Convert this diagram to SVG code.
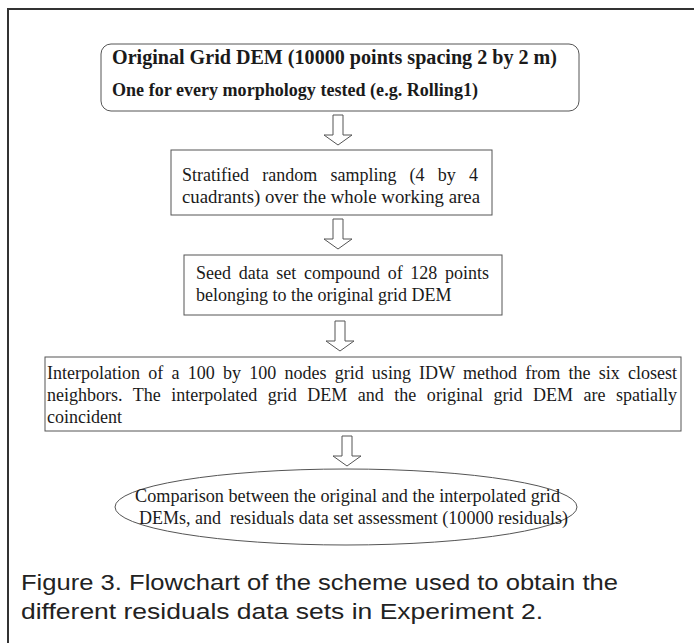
<svg xmlns="http://www.w3.org/2000/svg" width="694" height="643" viewBox="0 0 694 643">
<style>
.box{fill:#fff;stroke:#555;stroke-width:1}
.arr{fill:#fff;stroke:#555;stroke-width:1}
.t{font-family:"Liberation Serif","Times New Roman",serif;font-size:18px;fill:#1a1a1a}
.tb{font-family:"Liberation Serif","Times New Roman",serif;font-weight:bold;fill:#1a1a1a}
.cap{font-family:"Liberation Sans",Arial,sans-serif;font-size:22px;fill:#222}
</style>
<rect width="694" height="643" fill="#fff"/>
<path d="M8,643 V9 H694" fill="none" stroke="#333" stroke-width="2"/>
<g id="connectors">
<path class="arr" d="M333,115 H343 V135 H352 L338,145 L324,135 H333 Z"/>
<path class="arr" d="M333,219 H343 V239 H352 L338,249 L324,239 H333 Z"/>
<path class="arr" d="M335,321 H345 V341 H354 L340,351 L326,341 H335 Z"/>
<path class="arr" d="M342,436 H352 V456 H361 L347,466 L333,456 H342 Z"/>
</g>
<g id="n1">
<rect class="box" x="101" y="44" width="478" height="67" rx="10"/>
<text class="tb" x="112" y="64" font-size="20.5" textLength="445" lengthAdjust="spacingAndGlyphs">Original Grid DEM (10000 points spacing 2 by 2 m)</text>
<text class="tb" x="112" y="96" font-size="18" textLength="366" lengthAdjust="spacingAndGlyphs">One for every morphology tested (e.g. Rolling1)</text>
</g>
<g id="n2">
<rect class="box" x="171" y="150" width="321" height="65"/>
<text class="t" x="182" y="181" word-spacing="8.7" textLength="296" lengthAdjust="spacingAndGlyphs">Stratified random sampling (4 by 4</text>
<text class="t" x="182" y="203" textLength="298" lengthAdjust="spacingAndGlyphs">cuadrants) over the whole working area</text>
</g>
<g id="n3">
<rect class="box" x="184" y="255" width="318" height="60"/>
<text class="t" x="196" y="279" word-spacing="3.2" textLength="293" lengthAdjust="spacingAndGlyphs">Seed data set compound of 128 points</text>
<text class="t" x="196" y="301">belonging to the original grid DEM</text>
</g>
<g id="n4">
<rect class="box" x="45" y="357" width="636" height="74"/>
<text class="t" x="47" y="379" word-spacing="3.7" textLength="630" lengthAdjust="spacingAndGlyphs">Interpolation of a 100 by 100 nodes grid using IDW method from the six closest</text>
<text class="t" x="47" y="401" word-spacing="6" textLength="630" lengthAdjust="spacingAndGlyphs">neighbors. The interpolated grid DEM and the original grid DEM are spatially</text>
<text class="t" x="47" y="423">coincident</text>
</g>
<g id="n5">
<ellipse class="box" cx="346" cy="507" rx="231" ry="38"/>
<text class="t" x="135" y="502" textLength="425" lengthAdjust="spacingAndGlyphs">Comparison between the original and the interpolated grid</text>
<text class="t" x="139" y="524" textLength="429" lengthAdjust="spacingAndGlyphs" xml:space="preserve">DEMs, and  residuals data set assessment (10000 residuals)</text>
</g>
<g id="caption">
<text class="cap" x="21" y="590" font-size="23" textLength="597" lengthAdjust="spacingAndGlyphs">Figure 3. Flowchart of the scheme used to obtain the</text>
<text class="cap" x="21" y="619" font-size="23" textLength="522" lengthAdjust="spacingAndGlyphs">different residuals data sets in Experiment 2.</text>
</g>
</svg>
